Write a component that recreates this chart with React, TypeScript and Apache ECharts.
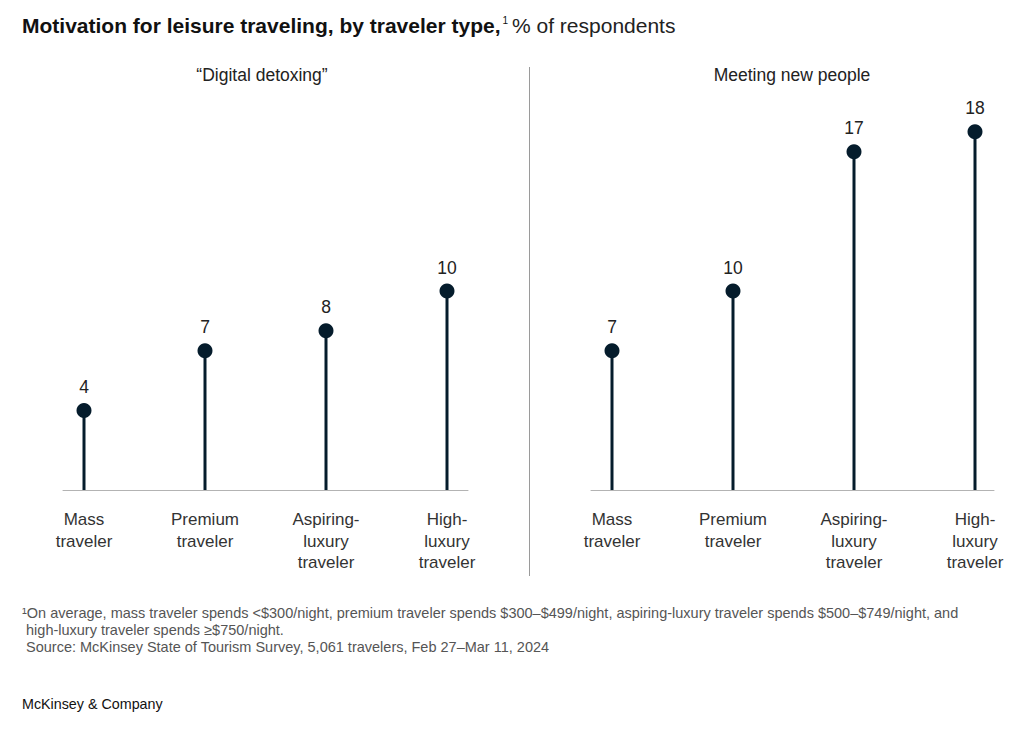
import React, { useEffect, useRef } from "react";
import * as echarts from "echarts";

const categories = ["Mass\ntraveler", "Premium\ntraveler", "Aspiring-\nluxury\ntraveler", "High-\nluxury\ntraveler"];
const panelTitles = ["\u201cDigital detoxing\u201d", "Meeting new people"];
const digitalDetoxing = [4, 7, 8, 10];
const meetingNewPeople = [7, 10, 17, 18];

const NAVY = "#051c2c";
const FONT = "'Liberation Sans', Arial, Helvetica, sans-serif";

export default function App() {
  const ref = useRef<HTMLDivElement>(null);
  useEffect(() => {
    if (!ref.current) return;
    const chart = echarts.init(ref.current, null, { renderer: "svg" });
    const panels = [
      { base: { left: 63, width: 405 }, data: { left: 84, width: 363 }, values: digitalDetoxing },
      { base: { left: 591, width: 403 }, data: { left: 612, width: 363 }, values: meetingNewPeople },
    ];
    const grid: any[] = [];
    const xAxis: any[] = [];
    const yAxis: any[] = [];
    const series: any[] = [];
    panels.forEach((p) => {
      const gBase = grid.length;
      grid.push({ left: p.base.left, width: p.base.width, top: 92, height: 398 });
      xAxis.push({
        type: "value", gridIndex: gBase, min: 0, max: 1,
        axisLine: { show: true, onZero: false, lineStyle: { color: "#b3b3b3", width: 1 } },
        axisTick: { show: false }, axisLabel: { show: false }, splitLine: { show: false },
      });
      yAxis.push({ type: "value", gridIndex: gBase, min: 0, max: 20, show: false });
      const gData = grid.length;
      grid.push({ left: p.data.left, width: p.data.width, top: 92, height: 398 });
      xAxis.push({
        type: "category", gridIndex: gData, data: categories, boundaryGap: false,
        axisLine: { show: false }, axisTick: { show: false },
        axisLabel: {
          interval: 0, margin: 19, fontSize: 17, lineHeight: 21.5, color: "#333",
          fontFamily: FONT, align: "center", verticalAlign: "top",
        },
      });
      yAxis.push({ type: "value", gridIndex: gData, min: 0, max: 20, show: false });
      series.push({
        type: "bar", xAxisIndex: gData, yAxisIndex: gData, data: p.values,
        barWidth: 3, itemStyle: { color: NAVY, opacity: 1 }, z: 2,
      });
      series.push({
        type: "scatter", xAxisIndex: gData, yAxisIndex: gData, data: p.values,
        symbol: "circle", symbolSize: 15, itemStyle: { color: NAVY, opacity: 1 }, z: 3,
        label: {
          show: true, position: "top", distance: 7, fontSize: 17.5, color: "#222",
          fontFamily: FONT,
        },
      });
    });

    chart.setOption({
      animation: false,
      backgroundColor: "#ffffff",
      grid, xAxis, yAxis, series,
      graphic: [
        {
          type: "text", left: 22, top: 12,
          style: {
            text: "{b|Motivation for leisure traveling, by traveler type,}{s|1}{r|% of respondents}",
            fontFamily: FONT,
            rich: {
              b: { fontSize: 21, fontWeight: "bold", fill: "#111", fontFamily: FONT, lineHeight: 27 },
              s: { fontSize: 10, fill: "#111", fontFamily: FONT, verticalAlign: "top", padding: [3, 4, 0, 2], lineHeight: 27 },
              r: { fontSize: 21, fill: "#222", fontFamily: FONT, lineHeight: 27 },
            },
          },
        },
        {
          type: "text", x: 262, y: 75,
          style: { text: panelTitles[0], fontSize: 17.5, fill: "#222", fontFamily: FONT, align: "center", verticalAlign: "middle" },
        },
        {
          type: "text", x: 792, y: 75,
          style: { text: panelTitles[1], fontSize: 17.5, fill: "#222", fontFamily: FONT, align: "center", verticalAlign: "middle" },
        },
        {
          type: "line", shape: { x1: 529.5, y1: 67, x2: 529.5, y2: 576 },
          style: { stroke: "#9a9a9a", lineWidth: 1 },
        },
        {
          type: "text", left: 22, top: 604,
          style: {
            text: "\u00b9On average, mass traveler spends <$300/night, premium traveler spends $300\u2013$499/night, aspiring-luxury traveler spends $500\u2013$749/night, and\n high-luxury traveler spends \u2265$750/night.\n Source: McKinsey State of Tourism Survey, 5,061 travelers, Feb 27\u2013Mar 11, 2024",
            fontSize: 14.5, lineHeight: 17, fill: "#555", fontFamily: FONT,
          },
        },
        {
          type: "text", left: 22, top: 697,
          style: { text: "McKinsey & Company", fontSize: 14.3, fill: "#111", fontFamily: FONT },
        },
      ],
    });
    return () => chart.dispose();
  }, []);
  return (
    <div
      ref={ref}
      style={{ position: "absolute", left: 0, top: 0, width: 1024, height: 739, background: "#fff" }}
    />
  );
}
